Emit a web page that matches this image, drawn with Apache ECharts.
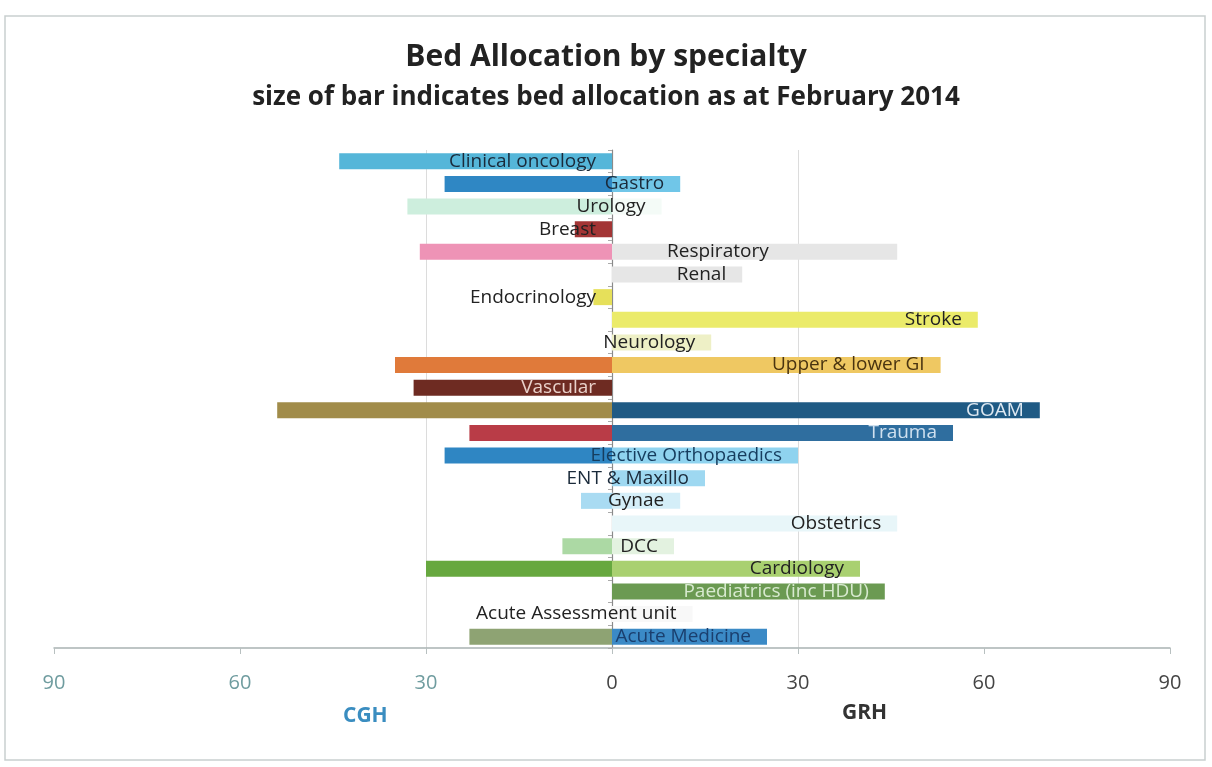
<!DOCTYPE html>
<html>
<head>
<meta charset="utf-8">
<script src="https://cdn.jsdelivr.net/npm/echarts@6/dist/echarts.min.js"></script>
<style>
  html, body { margin: 0; padding: 0; background: #ffffff; }
  #chart { width: 1212px; height: 767px; }
</style>
</head>
<body>
<div id="chart"></div>
<script>
// Specialties, top to bottom
const categories = [
  'Clinical oncology', 'Gastro', 'Urology', 'Breast', 'Respiratory', 'Renal',
  'Endocrinology', 'Stroke', 'Neurology', 'Upper & lower GI', 'Vascular', 'GOAM',
  'Trauma', 'Elective Orthopaedics', 'ENT & Maxillo', 'Gynae', 'Obstetrics', 'DCC',
  'Cardiology', 'Paediatrics (inc HDU)', 'Acute Assessment unit', 'Acute Medicine'
];

// Beds at CGH (drawn to the left of zero)
const cghBeds = [44, 27, 33, 6, 31, 0, 3, 0, 0, 35, 32, 54, 23, 27, 0, 5, 0, 8, 30, 0, 0, 23];

// Beds at GRH (drawn to the right of zero)
const grhBeds = [0, 11, 8, 0, 46, 21, 0, 59, 16, 53, 0, 69, 55, 30, 15, 11, 46, 10, 40, 44, 13, 25];

// Axis tick values (shown without sign)
const tickValues = [-90, -60, -30, 0, 30, 60, 90];

// Bar colours per specialty
const cghColors = [
  '#55b6d9', '#2f87c4', '#cdeedd', '#a33535', '#ee93b6', '#e8e8e8',
  '#e6e05a', '#eeee70', '#eef0c4', '#e07a3a', '#6e2b22', '#a18c4a',
  '#b93c47', '#2f86c3', '#a4d9f1', '#a9dbf2', '#e3f3f8', '#acd9a4',
  '#67a83f', '#6b9a52', '#f4f4f4', '#8ea373'
];
const grhColors = [
  '#a9dcef', '#70c6e8', '#f4fbf7', '#e0b0b0', '#e6e6e6', '#e6e6e6',
  '#f2f0b8', '#ebeb6a', '#eef0c6', '#efc862', '#f4e6e2', '#1f5a84',
  '#2f6e9f', '#8fd3ef', '#9ed8f1', '#d4eef8', '#e8f6f9', '#e3f2e0',
  '#a9d070', '#6b9a52', '#f8f8f8', '#3b8ac6'
];
const labelColors = [
  '#1a2a3a', '#1a2a3a', '#222222', '#222222', '#222222', '#222222',
  '#222222', '#222222', '#222222', '#4a3410', '#ead2cb', '#dfe9f2',
  '#cfe0ef', '#163d5e', '#1a2a3a', '#222222', '#222222', '#222222',
  '#222222', '#d8ead0', '#222222', '#1a3f6e'
];

const FONT = '"Open Sans", "Liberation Sans", sans-serif';

const chart = echarts.init(document.getElementById('chart'), null, { renderer: 'canvas' });

const cghData = cghBeds.map((v, i) => ({
  value: -v,
  itemStyle: { color: cghColors[i] }
}));

const grhData = grhBeds.map((v, i) => {
  const item = {
    value: v,
    itemStyle: { color: grhColors[i] },
    label: { color: labelColors[i] }
  };
  if (categories[i] === 'Respiratory') {
    item.label.position = 'insideLeft';
    item.label.distance = 55;
  }
  return item;
});

const option = {
  backgroundColor: '#ffffff',
  animation: false,
  title: [
    {
      text: 'Bed Allocation by specialty',
      left: 'center',
      top: 37,
      textStyle: { fontFamily: FONT, fontSize: 30, fontWeight: 'bold', color: '#222222' }
    },
    {
      text: 'size of bar indicates bed allocation as at February 2014',
      left: 'center',
      top: 80,
      textStyle: { fontFamily: FONT, fontSize: 26, fontWeight: 'bold', color: '#222222' }
    }
  ],
  grid: { left: 54, right: 42, top: 150, height: 498, containLabel: false },
  xAxis: {
    type: 'value',
    min: -90,
    max: 90,
    interval: 30,
    axisLine: { show: true, onZero: false, lineStyle: { color: '#a9b3b3', width: 1.5 } },
    axisTick: { show: true, length: 6, lineStyle: { color: '#b8c0c0' } },
    splitLine: {
      show: true,
      lineStyle: {
        color: tickValues.map(t => (Math.abs(t) === 30 ? '#dcdcdc' : 'rgba(0,0,0,0)')),
        width: 1
      }
    },
    axisLabel: {
      margin: 25,
      fontFamily: FONT,
      fontSize: 20,
      formatter: v => String(Math.abs(v)),
      color: v => (v < 0 ? '#6f9c9f' : v === 0 ? '#111111' : '#444444')
    }
  },
  yAxis: {
    type: 'category',
    data: categories,
    inverse: true,
    axisLine: { show: true, onZero: true, lineStyle: { color: '#8a8a8a', width: 1.2 } },
    axisTick: { show: true, length: 4, lineStyle: { color: '#aaaaaa' } },
    axisLabel: { show: false },
    splitLine: { show: false }
  },
  series: [
    {
      name: 'CGH',
      type: 'bar',
      data: cghData,
      barWidth: 16,
      barGap: '-100%',
      label: { show: false }
    },
    {
      name: 'GRH',
      type: 'bar',
      data: grhData,
      barWidth: 16,
      barGap: '-100%',
      z: 3,
      label: {
        show: true,
        position: 'insideRight',
        distance: 16,
        formatter: p => p.name,
        fontFamily: FONT,
        fontSize: 19,
        color: '#222222'
      },
      labelLayout: { hideOverlap: false }
    }
  ],
  graphic: [
    {
      type: 'rect',
      silent: true,
      shape: { x: 5, y: 16, width: 1200, height: 744 },
      style: { fill: 'none', stroke: '#c9cfcf', lineWidth: 1.5 },
      z: -1
    },
    {
      type: 'text',
      left: 343,
      top: 706,
      style: { text: 'CGH', fontFamily: FONT, fontSize: 21, fontWeight: 'bold', fill: '#3a8dc0' }
    },
    {
      type: 'text',
      left: 842,
      top: 703,
      style: { text: 'GRH', fontFamily: FONT, fontSize: 21, fontWeight: 'bold', fill: '#333333' }
    }
  ]
};

chart.setOption(option);
</script>
</body>
</html>
